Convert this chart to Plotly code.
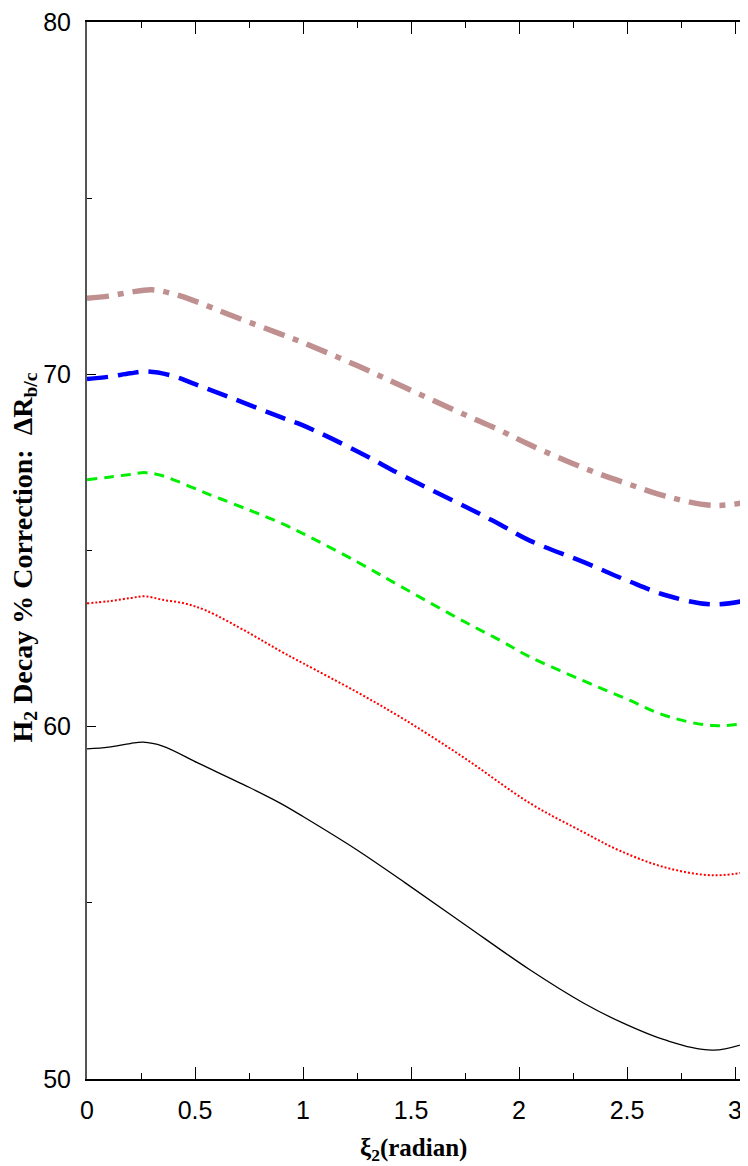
import plotly.graph_objects as go

# x positions (radian)
x_brown = [0, 0.1, 0.2, 0.3, 0.4, 0.5, 0.66, 0.894, 1.0, 1.25, 1.47, 1.75, 1.912, 2.05, 2.3, 2.5, 2.68, 2.9, 3.1]
y_brown = [72.16, 72.22, 72.33, 72.40, 72.28, 72.08, 71.69, 71.15, 70.9, 70.25, 69.63, 68.85, 68.41, 68.0, 67.34, 66.9, 66.54, 66.28, 66.42]

x_blue = [0, 0.1, 0.2, 0.28, 0.4, 0.5, 0.66, 0.894, 1.0, 1.25, 1.47, 1.75, 1.912, 2.05, 2.3, 2.5, 2.68, 2.9, 3.1]
y_blue = [69.87, 69.93, 70.03, 70.08, 69.95, 69.72, 69.35, 68.79, 68.55, 67.82, 67.10, 66.25, 65.74, 65.28, 64.67, 64.15, 63.73, 63.47, 63.65]

x_green = [0, 0.1, 0.2, 0.27, 0.35, 0.55, 0.75, 0.894, 1.0, 1.25, 1.47, 1.75, 1.912, 2.05, 2.3, 2.5, 2.68, 2.9, 3.1]
y_green = [67.01, 67.08, 67.16, 67.21, 67.12, 66.63, 66.15, 65.79, 65.48, 64.68, 63.92, 62.97, 62.45, 61.98, 61.30, 60.78, 60.31, 60.03, 60.14]

x_red = [0, 0.1, 0.2, 0.27, 0.35, 0.45, 0.55, 0.75, 0.894, 1.0, 1.25, 1.47, 1.75, 2.05, 2.3, 2.47, 2.68, 2.9, 3.1]
y_red = [63.50, 63.56, 63.65, 63.70, 63.60, 63.50, 63.30, 62.66, 62.15, 61.80, 60.98, 60.20, 59.1, 57.83, 57.0, 56.47, 56.0, 55.78, 55.93]

x_black = [0, 0.1, 0.2, 0.26, 0.35, 0.52, 0.75, 0.894, 1.0, 1.25, 1.47, 1.75, 2.05, 2.3, 2.47, 2.68, 2.9, 3.1]
y_black = [59.37, 59.42, 59.52, 59.56, 59.45, 58.95, 58.28, 57.83, 57.45, 56.5, 55.58, 54.38, 53.10, 52.15, 51.62, 51.1, 50.82, 51.12]

x_tickvals = [0, 0.5, 1, 1.5, 2, 2.5, 3]
x_ticktext = ["0", "0.5", "1", "1.5", "2", "2.5", "3"]
y_tickvals = [50, 60, 70, 80]
y_ticktext = ["50", "60", "70", "80"]

fig = go.Figure()
series = [
    (x_black, y_black, "black", 1.3, "solid"),
    (x_red, y_red, "#ff0000", 2, "2px,2px"),
    (x_green, y_green, "#00ee00", 3, "10px,7px"),
    (x_blue, y_blue, "#0000ff", 4.5, "21px,10px"),
    (x_brown, y_brown, "#c09090", 5.5, "22px,9px,6px,9px"),
]
for xs, ys, c, w, d in series:
    fig.add_trace(go.Scatter(x=xs, y=ys, mode="lines",
                             line=dict(color=c, width=w, dash=d, shape="spline", smoothing=1.0),
                             showlegend=False, hoverinfo="skip"))

tickfont = dict(family="Liberation Sans, Arial, sans-serif", size=25, color="black")
# page body has an 8px margin: the figure box starts at (8, 8)
fig.update_layout(
    width=740, height=1158,
    margin=dict(l=79, r=0, t=3, b=87),
    paper_bgcolor="white", plot_bgcolor="white",
    xaxis=dict(range=[0, 3.06], tickvals=x_tickvals, ticktext=x_ticktext,
               ticks="inside", ticklen=12, tickwidth=1.2, tickcolor="black",
               minor=dict(dtick=0.25, tick0=0, ticks="inside", ticklen=6, tickwidth=1.2, tickcolor="black"),
               showline=True, linecolor="black", linewidth=1.5, mirror="allticks",
               showgrid=False, zeroline=False, tickfont=tickfont, ticklabelstandoff=8,
               ticklabeloverflow="allow"),
    yaxis=dict(range=[50, 80], tickvals=y_tickvals, ticktext=y_ticktext,
               ticks="inside", ticklen=9, tickwidth=1.2, tickcolor="black",
               minor=dict(dtick=5, tick0=50, ticks="inside", ticklen=5, tickwidth=1.2, tickcolor="black"),
               showline=True, linecolor="#555555", linewidth=2, mirror=False,
               showgrid=False, zeroline=False, tickfont=tickfont, ticklabelstandoff=9,
               ticklabeloverflow="allow"),
)

fig.add_annotation(text="<b>ξ<sub>2</sub>(radian)</b>", xref="paper", yref="paper",
                   x=(413 - 87) / 661, y=(1079 - 1150) / 1068,
                   xanchor="center", yanchor="middle", showarrow=False,
                   font=dict(family="Liberation Serif, Times New Roman, serif", size=25, color="black"))
fig.add_annotation(text="<b>H<sub>2</sub> Decay % Correction:\u00a0\u00a0ΔR<sub>b/c</sub></b>",
                   xref="paper", yref="paper",
                   x=(24 - 87) / 661, y=(1079 - 552) / 1068, textangle=-90,
                   xanchor="center", yanchor="middle", showarrow=False,
                   font=dict(family="Liberation Serif, Times New Roman, serif", size=28, color="black"))

fig.write_html("out.html")
